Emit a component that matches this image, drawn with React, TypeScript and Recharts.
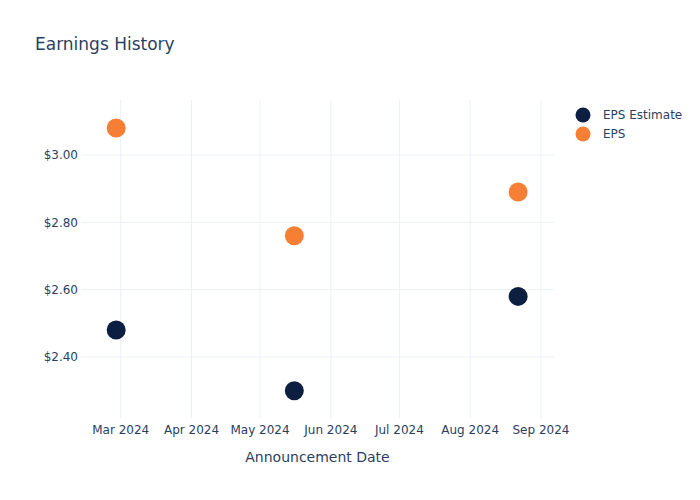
import React from 'react';
import { ScatterChart, Scatter, XAxis, YAxis, ReferenceLine } from 'recharts';

const dates = ['2024-02-28', '2024-05-16', '2024-08-22'];
const epsEstimate = [2.48, 2.3, 2.58];
const epsActual = [3.08, 2.76, 2.89];
const monthTicks = ['2024-03-01', '2024-04-01', '2024-05-01', '2024-06-01', '2024-07-01', '2024-08-01', '2024-09-01'];
const yTicks = [2.4, 2.6, 2.8, 3.0];

const MONTHS = ['Jan', 'Feb', 'Mar', 'Apr', 'May', 'Jun', 'Jul', 'Aug', 'Sep', 'Oct', 'Nov', 'Dec'];
const toTs = (d: string) => Date.parse(d + 'T00:00:00Z');
const DAY = 86400000;

const estimateData = dates.map((d, i) => ({ date: toTs(d), value: epsEstimate[i] }));
const epsData = dates.map((d, i) => ({ date: toTs(d), value: epsActual[i] }));

const NAVY = '#0c1f40';
const ORANGE = '#f77f35';
const TEXT = '#2a3f5f';
const GRID = '#ebf0f8';
const FONT = '"DejaVu Sans", sans-serif';

const dot = (color: string) => (props: any) => (
  <circle cx={props.cx} cy={props.cy} r={9.5} fill={color} />
);

const LegendBox = () => (
  <div style={{ position: 'absolute', left: 575, top: 105, fontFamily: FONT, fontSize: 12, color: TEXT }}>
    {[
      { name: 'EPS Estimate', color: NAVY },
      { name: 'EPS', color: ORANGE },
    ].map((s) => (
      <div key={s.name} style={{ display: 'flex', alignItems: 'center', height: 19 }}>
        <svg width={16} height={16} style={{ marginRight: 12 }}>
          <circle cx={8} cy={8} r={7.5} fill={s.color} />
        </svg>
        <span>{s.name}</span>
      </div>
    ))}
  </div>
);

export default function App() {
  return (
    <div style={{ position: 'absolute', left: 0, top: 0, width: 700, height: 500, background: '#fff' }}>
      <div style={{ position: 'absolute', left: 35, top: 34, fontFamily: FONT, fontSize: 17, color: TEXT }}>
        Earnings History
      </div>
      <ScatterChart width={700} height={500} margin={{ top: 100, right: 146, bottom: 52, left: 0 }}>
        {monthTicks.map((m) => (
          <ReferenceLine key={m} x={toTs(m)} stroke={GRID} strokeWidth={1} ifOverflow="hidden" />
        ))}
        {yTicks.map((t) => (
          <ReferenceLine key={t} y={t} stroke={GRID} strokeWidth={1} ifOverflow="hidden" />
        ))}
        <XAxis
          type="number"
          dataKey="date"
          height={30}
          domain={[toTs('2024-02-12') + 0.6 * DAY, toTs('2024-09-06') + 0.7 * DAY]}
          ticks={monthTicks.map(toTs)}
          interval={0}
          tickFormatter={(v: number) => {
            const d = new Date(v);
            return `${MONTHS[d.getUTCMonth()]} ${d.getUTCFullYear()}`;
          }}
          axisLine={false}
          tickLine={false}
          tickSize={0}
          tickMargin={7}
          tick={{ fill: TEXT, fontSize: 12, fontFamily: FONT }}
          label={{ value: 'Announcement Date', position: 'insideBottom', offset: -14, fill: TEXT, fontSize: 14, fontFamily: FONT }}
          allowDataOverflow
        />
        <YAxis
          type="number"
          dataKey="value"
          width={81}
          domain={[2.219, 3.163]}
          ticks={yTicks}
          interval={0}
          tickFormatter={(v: number) => `$${v.toFixed(2)}`}
          axisLine={false}
          tickLine={false}
          tickSize={0}
          tickMargin={3}
          tick={{ fill: TEXT, fontSize: 12, fontFamily: FONT }}
          allowDataOverflow
        />
        <Scatter name="EPS Estimate" data={estimateData} fill={NAVY} shape={dot(NAVY)} isAnimationActive={false} />
        <Scatter name="EPS" data={epsData} fill={ORANGE} shape={dot(ORANGE)} isAnimationActive={false} />
      </ScatterChart>
      <LegendBox />
    </div>
  );
}
